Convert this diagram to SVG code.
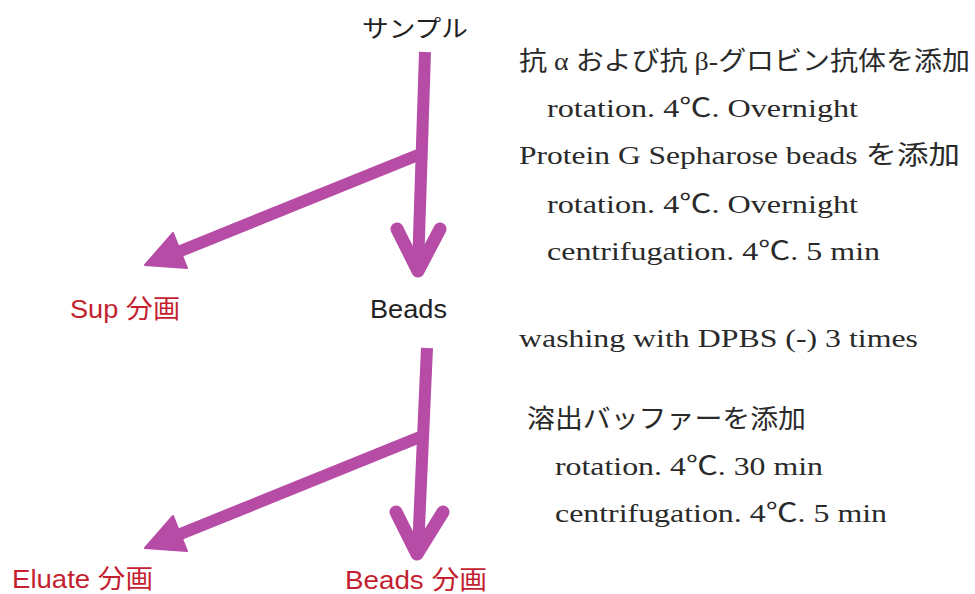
<svg xmlns="http://www.w3.org/2000/svg" width="975" height="594" viewBox="0 0 975 594">
<style>
.arr{fill:none;stroke:#b64ca6;stroke-width:12;stroke-linecap:butt}
.chev{fill:none;stroke:#b64ca6;stroke-width:13;stroke-linecap:round;stroke-linejoin:round}
.head{fill:#b64ca6;stroke:#b64ca6;stroke-width:2;stroke-linejoin:round}
.jp{font-family:"Noto Sans CJK JP",sans-serif;font-size:24px;fill:#222}
.lab{font-family:"Liberation Sans","Noto Sans CJK JP",sans-serif;font-size:26px}
.red{fill:#c41f30}
.blk{fill:#222}
.st{font-family:"Liberation Serif","Noto Sans CJK JP",serif;font-size:26px;fill:#2a2a2a}
</style>
<rect width="975" height="594" fill="#fff"/>
<g id="connectors">
<path class="arr" d="M425,52 L418,268"/>
<path class="chev" d="M397,229 L418,271 L440,229"/>
<path class="arr" d="M418,155 L178,252"/>
<path class="head" d="M145,265 L173,233 L187,268 Z"/>
<path class="arr" d="M427,348 L418,550"/>
<path class="chev" d="M396,512 L417,554 L443,512"/>
<path class="arr" d="M420,437 L178,535"/>
<path class="head" d="M145,548 L173,516 L187,551 Z"/>
</g>
<g id="sample"><text class="jp" x="362" y="37" textLength="106" lengthAdjust="spacingAndGlyphs">サンプル</text></g>
<g id="sup"><text class="lab red" x="70" y="318" textLength="110" lengthAdjust="spacingAndGlyphs">Sup 分画</text></g>
<g id="beads"><text class="lab blk" x="370" y="318" textLength="77" lengthAdjust="spacingAndGlyphs">Beads</text></g>
<g id="eluate"><text class="lab red" x="12" y="588" textLength="141" lengthAdjust="spacingAndGlyphs">Eluate 分画</text></g>
<g id="beads-frac"><text class="lab red" x="345" y="589" textLength="142" lengthAdjust="spacingAndGlyphs">Beads 分画</text></g>
<g id="steps">
<text class="st" x="519" y="70" textLength="451" lengthAdjust="spacingAndGlyphs">抗 α および抗 β-グロビン抗体を添加</text>
<text class="st" x="547" y="117" textLength="311" lengthAdjust="spacingAndGlyphs">rotation. 4℃. Overnight</text>
<text class="st" x="519" y="164" textLength="441" lengthAdjust="spacingAndGlyphs">Protein G Sepharose beads を添加</text>
<text class="st" x="547" y="213" textLength="311" lengthAdjust="spacingAndGlyphs">rotation. 4℃. Overnight</text>
<text class="st" x="547" y="260" textLength="333" lengthAdjust="spacingAndGlyphs">centrifugation. 4℃. 5 min</text>
<text class="st" x="519" y="347" textLength="399" lengthAdjust="spacingAndGlyphs">washing with DPBS (-) 3 times</text>
<text class="st" x="527" y="428" textLength="279" lengthAdjust="spacingAndGlyphs">溶出バッファーを添加</text>
<text class="st" x="555" y="475" textLength="268" lengthAdjust="spacingAndGlyphs">rotation. 4℃. 30 min</text>
<text class="st" x="555" y="522" textLength="332" lengthAdjust="spacingAndGlyphs">centrifugation. 4℃. 5 min</text>
</g>
</svg>
